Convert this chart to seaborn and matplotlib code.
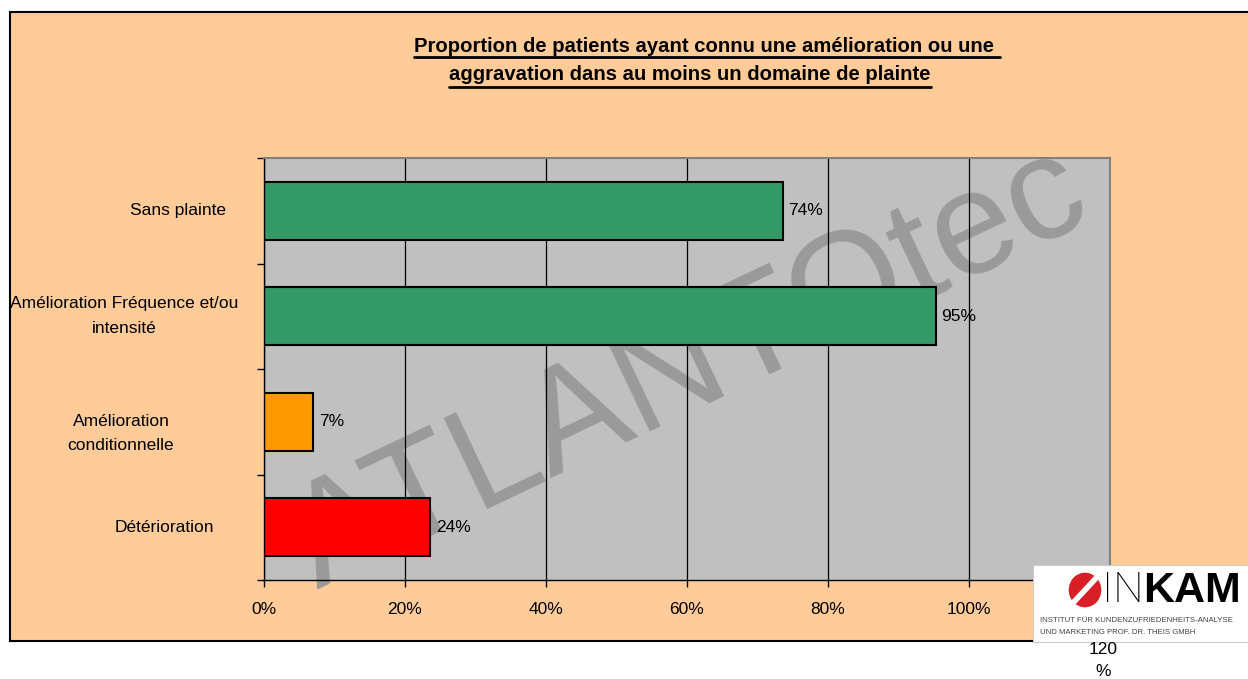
import matplotlib
matplotlib.use('Agg')
import numpy as np
import pandas as pd
import seaborn as sns
from matplotlib import pyplot as plt
from matplotlib.patches import Rectangle, Ellipse
from matplotlib.lines import Line2D
from matplotlib import transforms

# data
categories = ['Sans plainte', 'Amélioration Fréquence et/ou\nintensité',
              'Amélioration\nconditionnelle', 'Détérioration']
values = [0.736, 0.953, 0.07, 0.236]
bar_colors = ['#339966', '#339966', '#FF9900', '#FF0000']
xticks = [0, 0.2, 0.4, 0.6, 0.8, 1.0, 1.2]
xticklabels = ['0%', '20%', '40%', '60%', '80%', '100%', '']
title_lines = ['Proportion de patients ayant connu une amélioration ou une ',
               'aggravation dans au moins un domaine de plainte']

sns.set_style('white')
plt.rcParams['font.family'] = ['Liberation Sans', 'DejaVu Sans']
plt.rcParams['text.color'] = 'black'
plt.rcParams['xtick.color'] = 'black'
plt.rcParams['ytick.color'] = 'black'

W, H = 1248, 679
fig = plt.figure(figsize=(W / 100, H / 100), dpi=100)
fig.patch.set_facecolor('white')

# peach frame
fig.add_artist(Rectangle((10 / W, 1 - 641 / H), 1.1, (641 - 12) / H,
                         transform=fig.transFigure, facecolor='#FFCC99',
                         edgecolor='black', linewidth=1.5, zorder=0))

ax = fig.add_axes([264 / W, 1 - 580 / H, (1110 - 264) / W, (580 - 158) / H])
df = pd.DataFrame({'cat': categories, 'val': values})
sns.barplot(data=df, x='val', y='cat', hue='cat', palette=bar_colors, legend=False,
            width=0.55, edgecolor='black', linewidth=1.5, saturation=1, ax=ax)

ax.set_facecolor('#C0C0C0')
ax.set_xlim(0, 1.2)
ax.set_ylim(3.5, -0.5)
ax.set_axisbelow(True)
ax.set_xticks(xticks)
ax.set_xticklabels(xticklabels, fontsize=12.5)
ax.grid(axis='x', color='black', linewidth=0.9)
ax.set_yticks([-0.5, 0.5, 1.5, 2.5, 3.5])
ax.set_yticklabels([])
ax.tick_params(axis='both', direction='out', length=5, width=1, color='black',
               left=True, bottom=True)
ax.tick_params(axis='x', pad=11)
ax.set_xlabel('')
ax.set_ylabel('')
for s in ['left', 'bottom']:
    ax.spines[s].set_color('black')
    ax.spines[s].set_linewidth(1)
for s in ['top', 'right']:
    ax.spines[s].set_color('#808080')
    ax.spines[s].set_linewidth(1.5)

for c in ax.containers:
    ax.bar_label(c, fmt='{:.0%}', padding=4, fontsize=12.5)

# watermark
wm = ax.text(690 / W, 1 - 370 / H, 'ATLANTOtec', transform=fig.transFigure,
             rotation=25.5, rotation_mode='anchor', ha='center', va='center',
             fontsize=106, color='#9A9A9A', zorder=0.4)
wm.set_clip_path(ax.patch)

# category labels
lab_x = [178, 124, 121, 164]
trans = transforms.blended_transform_factory(fig.transFigure, ax.transData)
for i, lab in enumerate(categories):
    ax.text(lab_x[i] / W, i + (0.11 if i == 2 else 0), lab, transform=trans,
            ha='center', va='center', multialignment='center', fontsize=12.5,
            linespacing=1.8, clip_on=False)

# title
tl = []
for txt, cx, cy in zip(title_lines, [707, 690], [46, 75]):
    tl.append(fig.text(cx / W, 1 - cy / H, txt, ha='center', va='center',
                       fontsize=14.6, fontweight='bold'))

# logo box
fig.add_artist(Rectangle((1033 / W, 1 - 642 / H), 0.2, (642 - 565) / H,
                         transform=fig.transFigure, facecolor='white',
                         edgecolor='#CCCCCC', linewidth=0.8, zorder=3))
fig.add_artist(Ellipse((1085 / W, 1 - 590 / H), 34 / W, 36 / H, angle=0,
                       transform=fig.transFigure, facecolor='#D81F26', zorder=4))
fig.add_artist(Line2D([1072 / W, 1098 / W], [1 - 604 / H, 1 - 576 / H],
                      transform=fig.transFigure, color='white', linewidth=4, zorder=5))
fig.text(1102 / W, 1 - 591 / H, 'IN', fontsize=31, family=['Roboto', 'Liberation Sans'],
         fontweight='light', va='center', ha='left', zorder=6)
fig.text(1143 / W, 1 - 591 / H, 'KAM', fontsize=31, fontweight='bold', va='center',
         ha='left', zorder=6)
fig.text(1040 / W, 1 - 621 / H, 'INSTITUT FÜR KUNDENZUFRIEDENHEITS-ANALYSE',
         fontsize=5.6, color='#444444', va='center', ha='left', zorder=6)
fig.text(1040 / W, 1 - 632 / H, 'UND MARKETING PROF. DR. THEIS GMBH',
         fontsize=5.6, color='#444444', va='center', ha='left', zorder=6)

# wrapped 120% tick label
fig.text(1103 / W, 1 - 650 / H, '120', fontsize=12.5, ha='center', va='center')
fig.text(1103 / W, 1 - 671 / H, '%', fontsize=12.5, ha='center', va='center')

# underline title lines
fig.canvas.draw()
inv = fig.transFigure.inverted()
for t, uy in zip(tl, [57, 87]):
    bb = t.get_window_extent()
    (x0, _), (x1, _) = inv.transform([(bb.x0, 0), (bb.x1, 0)])
    fig.add_artist(Line2D([x0, x1], [1 - uy / H, 1 - uy / H],
                          transform=fig.transFigure, color='black', linewidth=2))

plt.savefig('out.png', dpi=100)
plt.close()
